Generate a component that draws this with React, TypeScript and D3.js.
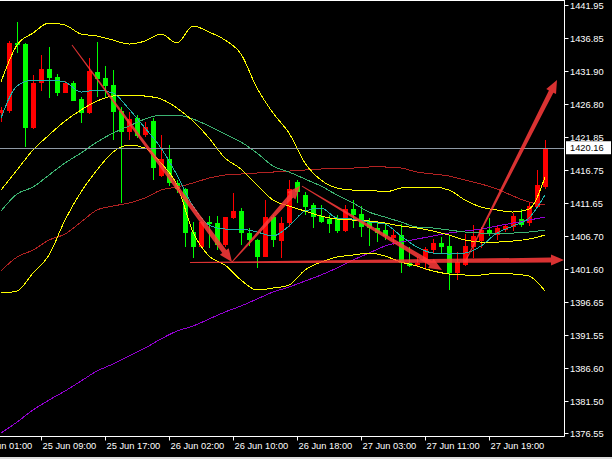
import { useEffect, useRef } from "react";
import * as d3 from "d3";

const WIDTH = 612;
const HEIGHT = 459;
const PLOT_RIGHT = 564.5;
const PLOT_BOTTOM = 436.5;

// H1 bars, oldest first
const opens = [
  1425.46, 1425.76, 1436.15, 1435.99, 1423.17, 1430.04, 1432.18, 1430.95, 1428.51, 1430.04,
  1427.6, 1425.46, 1431.72, 1430.8, 1429.73, 1425.76, 1422.56, 1424.69, 1422.1, 1424.24,
  1415.84, 1418.44, 1414.77, 1413.86, 1407.29, 1405.0, 1408.82, 1408.66, 1405.3, 1409.43,
  1410.49, 1407.14, 1406.07, 1403.47, 1409.58, 1405.92, 1408.66, 1414.92, 1412.94, 1411.41,
  1409.73, 1409.27, 1409.27, 1407.44, 1410.8, 1410.04, 1408.82, 1407.9, 1407.6, 1406.37,
  1406.83, 1402.56, 1402.25, 1403.02, 1404.54, 1405.61, 1405.15, 1401.03, 1402.25, 1405.0,
  1405.92, 1407.6, 1406.83, 1407.6, 1408.05, 1409.27, 1408.66, 1411.11, 1414.16,
];
const highs = [
  1426.38, 1436.45, 1439.35, 1436.15, 1431.26, 1434.31, 1435.53, 1431.41, 1430.35, 1430.35,
  1427.9, 1433.85, 1436.3, 1432.63, 1432.02, 1426.38, 1425.61, 1425.15, 1424.08, 1424.69,
  1422.1, 1420.57, 1415.23, 1414.01, 1408.82, 1408.97, 1409.73, 1409.73, 1409.58, 1413.24,
  1410.95, 1407.9, 1406.22, 1412.18, 1409.88, 1409.58, 1415.23, 1415.23, 1413.4, 1411.72,
  1411.41, 1409.88, 1409.88, 1411.41, 1412.18, 1411.26, 1409.43, 1408.82, 1408.51, 1407.6,
  1408.51, 1405.0, 1403.47, 1405.0, 1406.22, 1406.53, 1406.68, 1404.24, 1406.98, 1408.36,
  1408.05, 1409.43, 1408.36, 1408.51, 1410.19, 1410.8, 1411.87, 1416.76, 1421.34,
];
const lows = [
  1424.08, 1425.46, 1434.62, 1420.27, 1423.01, 1428.82, 1427.75, 1428.05, 1428.51, 1427.29,
  1423.93, 1425.31, 1427.9, 1427.9, 1421.34, 1411.72, 1421.34, 1421.64, 1421.79, 1415.23,
  1415.69, 1414.31, 1413.24, 1405.0, 1403.32, 1404.85, 1404.85, 1404.54, 1405.0, 1409.27,
  1405.3, 1405.15, 1401.8, 1403.47, 1405.0, 1403.32, 1408.05, 1411.72, 1409.88, 1407.9,
  1408.66, 1407.14, 1407.14, 1407.29, 1407.9, 1406.53, 1405.15, 1405.76, 1406.07, 1405.3,
  1401.03, 1401.95, 1401.95, 1401.49, 1403.93, 1403.93, 1398.44, 1399.96, 1402.1, 1403.32,
  1404.85, 1406.68, 1406.07, 1407.29, 1407.44, 1408.05, 1408.21, 1410.95, 1413.86,
];
const closes = [
  1425.92, 1436.15, 1435.84, 1423.17, 1430.04, 1432.18, 1430.8, 1428.51, 1430.04, 1427.29,
  1425.46, 1431.87, 1430.65, 1429.58, 1425.61, 1422.56, 1424.54, 1421.95, 1423.32, 1417.06,
  1418.44, 1414.77, 1413.86, 1407.14, 1405.0, 1408.82, 1408.51, 1405.3, 1409.58, 1410.49,
  1407.14, 1406.07, 1403.47, 1409.58, 1406.07, 1408.66, 1413.86, 1413.4, 1411.11, 1409.58,
  1408.82, 1408.51, 1407.44, 1410.8, 1409.88, 1408.05, 1407.9, 1407.14, 1406.68, 1406.83,
  1402.56, 1402.1, 1402.56, 1404.69, 1405.61, 1405.0, 1401.03, 1402.71, 1405.15, 1406.68,
  1407.6, 1406.98, 1407.9, 1408.21, 1409.73, 1408.36, 1411.26, 1414.46, 1420.16,
];

// indicator readings, one every second bar (bar 0, 2, 4 ... 68)
const maFast = [
  1424.69, 1429.58, 1430.5, 1430.5, 1430.19, 1428.66, 1428.97, 1428.51, 1426.07, 1423.17,
  1420.11, 1415.99, 1411.26, 1408.36, 1407.75, 1407.75, 1407.29, 1406.68, 1408.21, 1410.49,
  1410.95, 1409.43, 1409.27, 1408.82, 1408.51, 1406.68, 1405.0, 1404.08, 1403.93, 1404.08,
  1405.15, 1407.14, 1408.21, 1409.43, 1412.94,
];
const bbUpper = [
  1430.19, 1435.84, 1437.67, 1439.2, 1438.89, 1437.52, 1437.21, 1436.6, 1435.99, 1436.45,
  1437.52, 1436.15, 1438.74, 1437.82, 1436.6, 1434.47, 1429.27, 1425.46, 1422.4, 1417.82,
  1415.23, 1414.01, 1413.7, 1413.7, 1413.4, 1414.01, 1414.16, 1414.16, 1413.7, 1412.18,
  1411.11, 1410.65, 1410.34, 1410.8, 1415.69,
];
const bbMiddle = [
  1413.7, 1416.76, 1419.81, 1422.1, 1424.24, 1425.92, 1427.29, 1428.05, 1428.21, 1428.05,
  1427.6, 1426.22, 1424.24, 1421.64, 1418.59, 1416.91, 1414.46, 1412.18, 1411.26, 1410.49,
  1409.73, 1409.27, 1409.12, 1408.97, 1408.66, 1408.21, 1407.9, 1407.44, 1406.83, 1406.07,
  1405.76, 1405.76, 1405.92, 1406.22, 1406.83,
];
const bbLower = [
  1397.98, 1398.28, 1401.03, 1403.78, 1409.12, 1413.4, 1416.76, 1419.5, 1420.57, 1420.11,
  1417.82, 1414.46, 1407.29, 1403.63, 1402.25, 1399.96, 1398.44, 1398.74, 1399.2, 1401.49,
  1402.71, 1403.47, 1403.78, 1404.08, 1403.63, 1402.71, 1402.1, 1401.34, 1400.88, 1400.73,
  1400.73, 1401.03, 1400.88, 1400.57, 1398.28,
];
const maMid = [
  1410.49, 1413.09, 1414.16, 1415.99, 1417.82, 1419.35, 1421.03, 1422.4, 1423.47, 1424.54,
  1425.15, 1425.15, 1424.54, 1423.47, 1422.25, 1421.03, 1419.35, 1417.37, 1416.45, 1415.38,
  1414.31, 1412.94, 1411.72, 1410.34, 1409.58, 1408.82, 1408.05, 1407.9, 1407.6, 1407.29,
  1407.14, 1407.14, 1407.14, 1407.29, 1407.6,
];
const maSlow = [
  1401.34, 1403.47, 1404.54, 1406.07, 1406.98, 1408.82, 1410.65, 1411.26, 1411.72, 1412.48,
  1413.7, 1414.16, 1414.77, 1415.53, 1415.99, 1416.15, 1416.3, 1416.45, 1416.6, 1416.76,
  1416.91, 1417.06, 1417.06, 1417.22, 1417.22, 1417.06, 1416.45, 1416.15, 1415.84, 1415.23,
  1414.62, 1413.86, 1412.79, 1411.87, 1411.41,
];
const maLong = [
  1376.6, 1378.28, 1380.12, 1381.64, 1383.02, 1384.54, 1386.07, 1387.14, 1388.36, 1389.58,
  1390.96, 1392.18, 1392.94, 1394.01, 1395.08, 1396.0, 1397.06, 1398.13, 1398.89, 1399.81,
  1400.73, 1401.8, 1403.02, 1404.08, 1405.15, 1405.76, 1406.22, 1406.68, 1407.14, 1407.44,
  1407.75, 1408.21, 1408.66, 1409.12, 1409.58,
];

const timeLabels = [
  "25 Jun 01:00", "25 Jun 09:00", "25 Jun 17:00", "26 Jun 02:00", "26 Jun 10:00",
  "26 Jun 18:00", "27 Jun 03:00", "27 Jun 11:00", "27 Jun 19:00",
];
const timeLabelBars = [-3, 5, 13, 21, 29, 37, 45, 53, 61];
const priceTicks = [
  1441.95, 1436.85, 1431.9, 1426.8, 1421.85, 1416.75, 1411.65, 1406.7, 1401.6, 1396.65,
  1391.55, 1386.6, 1381.5, 1376.55,
];
const lastPrice = 1420.16;

// hand drawn arrows: [bar from, price from, bar to, price to]
const arrows = [
  [8.875, 1435.84, 28.875, 1402.71],
  [28.875, 1402.71, 37.375, 1414.31],
  [37.625, 1414.31, 55.125, 1401.49],
  [23.625, 1402.63, 70.375, 1403.02],
  [58.0, 1402.71, 69.5, 1430.5],
];

const INDICATORS = [
  { values: maLong, color: "#9400d3" },
  { values: maSlow, color: "#b22222" },
  { values: maMid, color: "#3cb371" },
  { values: bbUpper, color: "#ffff00" },
  { values: bbMiddle, color: "#ffff00" },
  { values: bbLower, color: "#ffff00" },
  { values: maFast, color: "#20b2aa" },
];

function arrowShape(
  x1: number, y1: number, x2: number, y2: number,
  w0: number, w1: number, headLen: number, headW: number
) {
  const len = Math.hypot(x2 - x1, y2 - y1);
  const ux = (x2 - x1) / len;
  const uy = (y2 - y1) / len;
  const nx = -uy;
  const ny = ux;
  const bx = x2 - ux * headLen;
  const by = y2 - uy * headLen;
  const pts = [
    [x1 + (nx * w0) / 2, y1 + (ny * w0) / 2],
    [bx + (nx * w1) / 2, by + (ny * w1) / 2],
    [bx + (nx * headW) / 2, by + (ny * headW) / 2],
    [x2, y2],
    [bx - (nx * headW) / 2, by - (ny * headW) / 2],
    [bx - (nx * w1) / 2, by - (ny * w1) / 2],
    [x1 - (nx * w0) / 2, y1 - (ny * w0) / 2],
  ];
  return "M" + pts.map((p) => p.join(",")).join("L") + "Z";
}

export default function App() {
  const svgRef = useRef<SVGSVGElement>(null);

  useEffect(() => {
    if (!svgRef.current) return;
    const svg = d3.select(svgRef.current);
    svg.selectAll("*").remove();

    const x = d3.scaleLinear().domain([0, 68]).range([1, 545]);
    const y = d3.scaleLinear().domain([1376.55, 1441.95]).range([433.4, 5]);

    svg.append("rect").attr("width", WIDTH).attr("height", HEIGHT).attr("fill", "#000");

    svg
      .append("defs")
      .append("clipPath")
      .attr("id", "plot-clip")
      .append("rect")
      .attr("x", 0)
      .attr("y", 0)
      .attr("width", PLOT_RIGHT)
      .attr("height", PLOT_BOTTOM);

    const plot = svg.append("g").attr("clip-path", "url(#plot-clip)");

    // candles
    const bars = d3.range(opens.length);
    const up = (i: number) => closes[i] >= opens[i];
    const candleG = plot.append("g").attr("shape-rendering", "crispEdges");
    candleG
      .selectAll("line")
      .data(bars)
      .join("line")
      .attr("x1", (i) => x(i) + 0.5)
      .attr("x2", (i) => x(i) + 0.5)
      .attr("y1", (i) => y(highs[i]))
      .attr("y2", (i) => y(lows[i]))
      .attr("stroke", (i) => (up(i) ? "#ff0000" : "#00ff00"))
      .attr("stroke-width", 1);
    candleG
      .selectAll("rect")
      .data(bars)
      .join("rect")
      .attr("x", (i) => x(i) - 2)
      .attr("width", 5)
      .attr("y", (i) => y(Math.max(opens[i], closes[i])))
      .attr("height", (i) => Math.max(1, Math.abs(y(opens[i]) - y(closes[i]))))
      .attr("fill", (i) => (up(i) ? "#ff0000" : "#00ff00"));

    // indicators, aliased like the terminal draws them
    const line = d3
      .line<number>()
      .x((_, j) => x(j * 2))
      .y((d) => y(d))
      .curve(d3.curveMonotoneX);
    INDICATORS.forEach((ind) => {
      plot
        .append("path")
        .datum(ind.values)
        .attr("d", line)
        .attr("fill", "none")
        .attr("stroke", ind.color)
        .attr("stroke-width", 1)
        .attr("shape-rendering", "crispEdges");
    });

    // last price line
    plot
      .append("line")
      .attr("x1", 0)
      .attr("x2", PLOT_RIGHT)
      .attr("y1", Math.round(y(lastPrice)) + 0.5)
      .attr("y2", Math.round(y(lastPrice)) + 0.5)
      .attr("stroke", "#8f9aa6")
      .attr("stroke-width", 1);

    // arrows
    arrows.forEach(([b0, p0, b1, p1]) => {
      svg
        .append("path")
        .attr("d", arrowShape(x(b0), y(p0), x(b1), y(p1), 1, 5, 13, 11))
        .attr("fill", "#ff3b3b")
        .attr("fill-opacity", 0.85);
    });

    // frame
    const frame = svg.append("g").attr("stroke", "#fff").attr("stroke-width", 1);
    frame.append("line").attr("x1", 0).attr("x2", PLOT_RIGHT).attr("y1", 0.5).attr("y2", 0.5);
    frame.append("line").attr("x1", PLOT_RIGHT).attr("x2", PLOT_RIGHT).attr("y1", 0).attr("y2", PLOT_BOTTOM);
    frame.append("line").attr("x1", 0).attr("x2", PLOT_RIGHT).attr("y1", PLOT_BOTTOM).attr("y2", PLOT_BOTTOM);

    // price axis
    const yAxis = svg.append("g").attr("font-family", "Liberation Sans, Arial, sans-serif").attr("font-size", 9.3);
    priceTicks.forEach((v) => {
      const py = Math.round(y(v)) + 0.5;
      yAxis.append("line").attr("x1", PLOT_RIGHT).attr("x2", PLOT_RIGHT + 4).attr("y1", py).attr("y2", py).attr("stroke", "#fff");
      yAxis.append("text").attr("x", 570).attr("y", py).attr("dy", "0.35em").attr("fill", "#fff").text(v.toFixed(2));
    });

    // last price tag
    const tagY = y(lastPrice);
    yAxis.append("rect").attr("x", 566).attr("y", tagY - 6.5).attr("width", 45).attr("height", 13).attr("fill", "#fff");
    yAxis.append("text").attr("x", 570).attr("y", tagY).attr("dy", "0.35em").attr("fill", "#000").text(lastPrice.toFixed(2));

    // time axis
    const xAxis = svg.append("g").attr("font-family", "Liberation Sans, Arial, sans-serif").attr("font-size", 9.3);
    timeLabelBars.forEach((b, i) => {
      const px = Math.round(x(b)) + 0.5;
      xAxis.append("line").attr("x1", px).attr("x2", px).attr("y1", PLOT_BOTTOM).attr("y2", PLOT_BOTTOM + 4).attr("stroke", "#fff");
      xAxis.append("text").attr("x", px + 1).attr("y", 449).attr("fill", "#fff").text(timeLabels[i]);
    });

    svg.append("rect").attr("x", 0).attr("y", 457).attr("width", WIDTH).attr("height", 2).attr("fill", "#dcdcdc");
  }, []);

  return (
    <svg
      ref={svgRef}
      width={WIDTH}
      height={HEIGHT}
      style={{ position: "fixed", left: 0, top: 0, display: "block" }}
    />
  );
}
